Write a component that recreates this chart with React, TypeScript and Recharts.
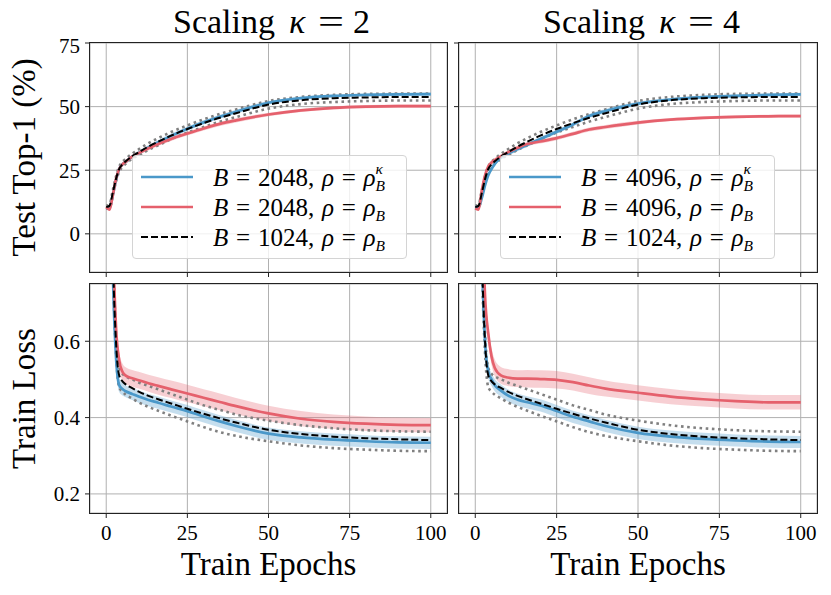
import { ComposedChart, Line, Area, XAxis, YAxis, CartesianGrid } from "recharts";

const FONT = '"Liberation Serif", "Times New Roman", serif';
const BLUE = "#4a98c9";
const RED = "#e5606c";
const GRID = "#b0b0b0";
const DOT = "#808080";

const EPOCHS = [0, 1, 2, 3, 4, 5, 6, 8, 10, 13, 16, 20, 25, 30, 35, 40, 50, 60, 70, 80, 90, 100];

// test top-1 accuracy (%)
const BASE_ACC = [10.5, 11, 16, 21.5, 25.5, 27.3, 28.5, 30.5, 32, 34.3, 36.2, 38.6, 41.2, 43.5, 45.6, 47.4, 50.8, 52.5, 53.3, 53.6, 53.8, 53.8];
const BASE_ACC_HI = [11, 11.5, 17, 22.5, 26.5, 28.3, 29.5, 31.5, 33.2, 35.6, 37.6, 40, 42.6, 45, 47.1, 48.9, 52.2, 53.8, 54.6, 55, 55.1, 55.1];
const BASE_ACC_LO = [10, 10, 15, 20.5, 24.5, 26.3, 27.5, 29.5, 30.8, 33, 34.8, 37.2, 39.8, 42, 44.1, 45.9, 49.2, 51, 51.8, 52.2, 52.4, 52.4];
const K2_BLUE_ACC = [10, 10, 15, 21, 25.5, 27.3, 28.3, 30.3, 31.8, 34, 36, 38.5, 41.3, 43.8, 46, 48, 51.5, 53.3, 54.2, 54.6, 54.8, 54.9];
const K2_RED_ACC = [10.5, 9.5, 15, 21.5, 25.5, 27.3, 28.3, 30.3, 31.7, 33.6, 35.3, 37.3, 39.4, 41.4, 43.2, 44.6, 46.9, 48.5, 49.5, 50, 50.2, 50.2];
const K4_BLUE_ACC = [10.5, 10.5, 14, 19, 23, 25.5, 27.5, 30, 31.5, 33.3, 35, 37.3, 40.1, 43, 46.3, 48.3, 51.2, 52.8, 53.7, 54.2, 54.6, 54.8];
const K4_RED_ACC = [10, 9.5, 17, 23, 26.5, 28, 29, 30.5, 32, 33.8, 35.3, 36.3, 37.6, 39.3, 41, 42, 43.7, 44.9, 45.6, 46, 46.2, 46.3];
const ACC_SPREAD = [0.5, 0.5, 0.8, 0.8, 0.8, 0.8, 0.8, 0.8, 0.8, 0.8, 0.8, 0.8, 0.8, 0.8, 0.8, 0.8, 0.7, 0.6, 0.6, 0.6, 0.6, 0.6];

// train loss
const BASE_LOSS = [2.2, 1.4, 0.85, 0.6, 0.51, 0.495, 0.487, 0.477, 0.468, 0.457, 0.448, 0.437, 0.423, 0.41, 0.398, 0.387, 0.368, 0.357, 0.35, 0.346, 0.343, 0.341];
const BASE_LOSS_HI = [2.3, 1.45, 0.88, 0.62, 0.53, 0.515, 0.508, 0.5, 0.492, 0.483, 0.474, 0.462, 0.447, 0.432, 0.42, 0.408, 0.392, 0.38, 0.372, 0.367, 0.364, 0.363];
const BASE_LOSS_LO = [2.1, 1.35, 0.82, 0.57, 0.48, 0.468, 0.46, 0.45, 0.44, 0.428, 0.418, 0.405, 0.39, 0.375, 0.362, 0.352, 0.338, 0.327, 0.32, 0.316, 0.313, 0.312];
const K2_BLUE_LOSS = [2.2, 1.4, 0.8, 0.56, 0.485, 0.475, 0.469, 0.462, 0.455, 0.446, 0.439, 0.429, 0.417, 0.403, 0.39, 0.378, 0.358, 0.348, 0.342, 0.338, 0.335, 0.334];
const K2_RED_LOSS = [2.2, 1.5, 0.9, 0.64, 0.55, 0.52, 0.51, 0.503, 0.498, 0.49, 0.483, 0.474, 0.463, 0.452, 0.441, 0.43, 0.411, 0.397, 0.389, 0.384, 0.381, 0.38];
const K4_BLUE_LOSS = [2.2, 1.4, 0.85, 0.6, 0.52, 0.5, 0.485, 0.47, 0.458, 0.447, 0.44, 0.432, 0.417, 0.402, 0.39, 0.378, 0.36, 0.35, 0.344, 0.34, 0.337, 0.336];
const K4_RED_LOSS = [2.2, 1.6, 1.0, 0.72, 0.62, 0.56, 0.53, 0.51, 0.505, 0.502, 0.502, 0.501, 0.499, 0.493, 0.484, 0.476, 0.465, 0.455, 0.448, 0.443, 0.44, 0.44];
const BLUE_LOSS_SPREAD = [0.02, 0.02, 0.02, 0.02, 0.018, 0.017, 0.016, 0.016, 0.016, 0.016, 0.016, 0.016, 0.016, 0.016, 0.016, 0.016, 0.016, 0.016, 0.016, 0.016, 0.016, 0.016];
const RED_LOSS_SPREAD = [0.02, 0.02, 0.02, 0.022, 0.022, 0.022, 0.022, 0.022, 0.022, 0.022, 0.023, 0.023, 0.023, 0.022, 0.022, 0.021, 0.02, 0.02, 0.019, 0.019, 0.019, 0.019];

const X_TICKS = [0, 25, 50, 75, 100];
const ACC_TICKS = [0, 25, 50, 75];
const LOSS_TICKS = [0.2, 0.4, 0.6];
const TITLES = ["2", "4"];
const LEGEND_B = [["2048", "2048", "1024"], ["4096", "4096", "1024"]];

const makeRows = (blue: number[], red: number[], blueSpread: number[], redSpread: number[], base: number[], hi: number[], lo: number[]) =>
  EPOCHS.map((epoch, i) => ({
    epoch,
    blue: blue[i],
    red: red[i],
    blueBand: [blue[i] - blueSpread[i], blue[i] + blueSpread[i]],
    redBand: [red[i] - redSpread[i], red[i] + redSpread[i]],
    base: base[i],
    baseHi: hi[i],
    baseLo: lo[i],
  }));

const rowsK2Acc = makeRows(K2_BLUE_ACC, K2_RED_ACC, ACC_SPREAD, ACC_SPREAD, BASE_ACC, BASE_ACC_HI, BASE_ACC_LO);
const rowsK4Acc = makeRows(K4_BLUE_ACC, K4_RED_ACC, ACC_SPREAD, ACC_SPREAD, BASE_ACC, BASE_ACC_HI, BASE_ACC_LO);
const rowsK2Loss = makeRows(K2_BLUE_LOSS, K2_RED_LOSS, BLUE_LOSS_SPREAD, RED_LOSS_SPREAD, BASE_LOSS, BASE_LOSS_HI, BASE_LOSS_LO);
const rowsK4Loss = makeRows(K4_BLUE_LOSS, K4_RED_LOSS, BLUE_LOSS_SPREAD, RED_LOSS_SPREAD, BASE_LOSS, BASE_LOSS_HI, BASE_LOSS_LO);

const tickStyle = { fill: "#000", fontSize: 21, fontFamily: FONT };

const Panel = (props: any) => {
  const { left, top, w, h, rows, domain, ticks, showX, showY, fmt } = props;
  return (
    <>
      <div style={{ position: "absolute", left: left - 60, top: top - 10 }}>
        <ComposedChart width={w + 70} height={h + 55} data={rows} margin={{ top: 10, right: 10, left: 0, bottom: 0 }}>
          <CartesianGrid stroke={GRID} strokeWidth={1} />
          <XAxis
            dataKey="epoch"
            type="number"
            domain={[-5, 105]}
            ticks={X_TICKS}
            allowDataOverflow
            height={45}
            axisLine={false}
            tickSize={5}
            tickMargin={7}
            tickLine={{ stroke: "#222" }}
            tick={tickStyle}
            tickFormatter={(v: number) => (showX ? String(v) : "")}
          />
          <YAxis
            type="number"
            domain={domain}
            ticks={ticks}
            allowDataOverflow
            width={60}
            axisLine={false}
            tickSize={5}
            tickMargin={5}
            tickLine={{ stroke: "#222" }}
            tick={tickStyle}
            tickFormatter={(v: number) => (showY ? fmt(v) : "")}
          />
          <Area dataKey="blueBand" type="monotone" stroke="none" fill={BLUE} fillOpacity={0.32} isAnimationActive={false} />
          <Area dataKey="redBand" type="monotone" stroke="none" fill={RED} fillOpacity={0.3} isAnimationActive={false} />
          <Line dataKey="baseHi" type="monotone" stroke={DOT} strokeWidth={2.6} strokeDasharray="2.6 3.6" dot={false} activeDot={false} isAnimationActive={false} />
          <Line dataKey="baseLo" type="monotone" stroke={DOT} strokeWidth={2.6} strokeDasharray="2.6 3.6" dot={false} activeDot={false} isAnimationActive={false} />
          <Line dataKey="blue" type="monotone" stroke={BLUE} strokeWidth={2.7} dot={false} activeDot={false} isAnimationActive={false} />
          <Line dataKey="red" type="monotone" stroke={RED} strokeWidth={2.7} dot={false} activeDot={false} isAnimationActive={false} />
          <Line dataKey="base" type="monotone" stroke="#000" strokeWidth={2} strokeDasharray="7 3" dot={false} activeDot={false} isAnimationActive={false} />
        </ComposedChart>
      </div>
      <div
        style={{
          position: "absolute",
          left: left - 0.6,
          top: top - 0.6,
          width: w + 1.2,
          height: h + 1.2,
          boxSizing: "border-box",
          border: "1.2px solid #222",
          pointerEvents: "none",
        }}
      />
    </>
  );
};

const Legend = (props: { left: number; top: number; k: number }) => {
  const { left, top, k } = props;
  const rows = [
    { color: BLUE, dash: undefined, b: LEGEND_B[k][0], kappa: true },
    { color: RED, dash: undefined, b: LEGEND_B[k][1], kappa: false },
    { color: "#000", dash: "7 3", b: LEGEND_B[k][2], kappa: false },
  ];
  const script = { position: "absolute" as const, left: 0, fontSize: 15.5, lineHeight: "15.5px", fontStyle: "italic" };
  return (
    <div
      style={{
        position: "absolute",
        left,
        top,
        width: 275,
        height: 104,
        boxSizing: "border-box",
        border: "1px solid #d4d4d4",
        borderRadius: 4,
        background: "rgba(255,255,255,0.8)",
        fontFamily: FONT,
        color: "#000",
      }}
    >
      {rows.map((r, i) => {
        const base = 30.3 + i * 30;
        return (
          <div key={i}>
            <svg width={70} height={20} style={{ position: "absolute", left: 0, top: base - 9.6 - 10 }}>
              <line x1={8} x2={60} y1={10} y2={10} stroke={r.color} strokeWidth={r.dash ? 2 : 2.7} strokeDasharray={r.dash} />
            </svg>
            <div style={{ position: "absolute", left: 80, top: base - 20.9, fontSize: 25, lineHeight: "25px", whiteSpace: "nowrap", wordSpacing: 1.5 }}>
              <i>B</i> = {r.b}, <i>ρ</i> = <i>ρ</i>
              <span style={{ position: "relative", display: "inline-block", width: 12, height: 0 }}>
                {r.kappa && <span style={{ ...script, top: -25.2 }}>κ</span>}
                <span style={{ ...script, top: -8.3 }}>B</span>
              </span>
            </div>
          </div>
        );
      })}
    </div>
  );
};

const Title = (props: { dx: number; k: string }) => (
  <g transform={`translate(${props.dx},0)`}>
    <text x={173} y={33} fontSize={34} fill="#000">
      Scaling
    </text>
    <text x={289} y={33} fontSize={34} fontStyle="italic" fill="#000">
      κ
    </text>
    <text x={318} y={33} fontSize={34} textLength={26} lengthAdjust="spacingAndGlyphs" fill="#000">
      =
    </text>
    <text x={353} y={33} fontSize={34} fill="#000">
      {props.k}
    </text>
  </g>
);

export default function App() {
  const fmtAcc = (v: number) => String(v);
  const fmtLoss = (v: number) => v.toFixed(1);
  return (
    <div style={{ position: "absolute", left: 0, top: 0, width: 831, height: 595, background: "#fff", fontFamily: FONT }}>
      <Panel left={90} top={43} w={357} h={229} rows={rowsK2Acc} domain={[-15, 75]} ticks={ACC_TICKS} showX={false} showY fmt={fmtAcc} />
      <Panel left={459} top={43} w={358} h={229} rows={rowsK4Acc} domain={[-15, 75]} ticks={ACC_TICKS} showX={false} showY={false} fmt={fmtAcc} />
      <Panel left={90} top={284} w={357} h={229} rows={rowsK2Loss} domain={[0.15, 0.75]} ticks={LOSS_TICKS} showX showY fmt={fmtLoss} />
      <Panel left={459} top={284} w={358} h={229} rows={rowsK4Loss} domain={[0.15, 0.75]} ticks={LOSS_TICKS} showX showY={false} fmt={fmtLoss} />
      <Legend left={132} top={155} k={0} />
      <Legend left={500} top={155} k={1} />
      <svg width={831} height={595} style={{ position: "absolute", left: 0, top: 0, pointerEvents: "none" }} fontFamily={FONT}>
        {TITLES.map((t, i) => (
          <Title key={t} dx={i * 370} k={t} />
        ))}
        <text transform="translate(35,157.5) rotate(-90)" textAnchor="middle" fontSize={33} fill="#000">
          Test Top-1 (%)
        </text>
        <text transform="translate(35,398.5) rotate(-90)" textAnchor="middle" fontSize={33} fill="#000">
          Train Loss
        </text>
        <text x={268.5} y={575} textAnchor="middle" fontSize={33} fill="#000">
          Train Epochs
        </text>
        <text x={638} y={575} textAnchor="middle" fontSize={33} fill="#000">
          Train Epochs
        </text>
      </svg>
    </div>
  );
}
